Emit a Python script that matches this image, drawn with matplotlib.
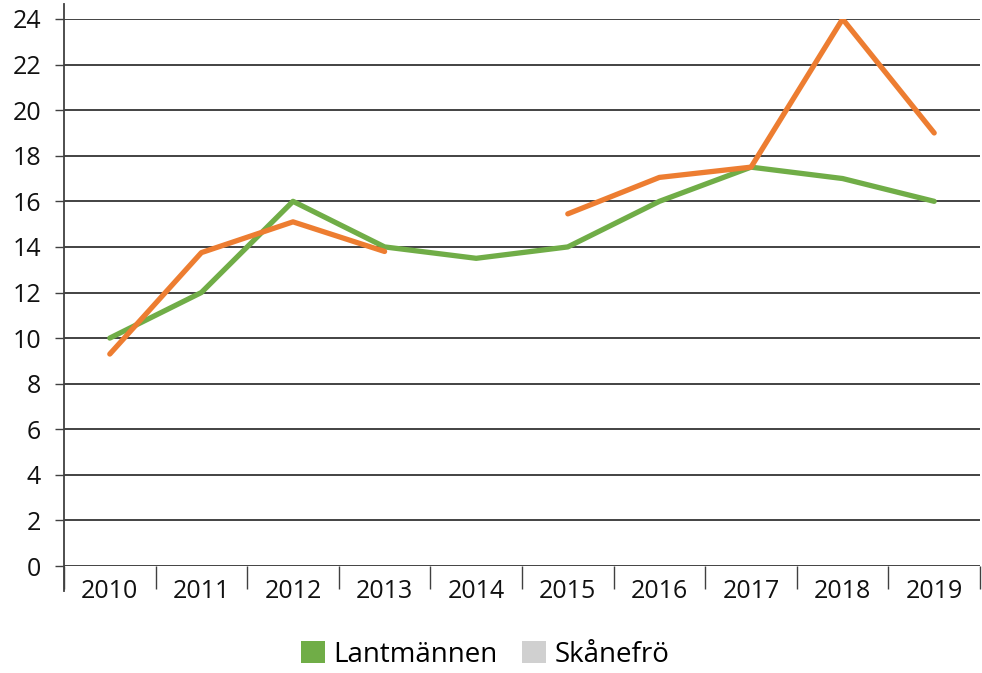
import numpy as np
import matplotlib.pyplot as plt
from matplotlib.patches import Patch
from matplotlib.lines import Line2D

years = ['2010', '2011', '2012', '2013', '2014', '2015', '2016', '2017', '2018', '2019']
lantmannen = [10, 12, 16, 14, 13.5, 14, 16, 17.5, 17, 16]
other = [9.3, 13.75, 15.1, 13.8, np.nan, 15.45, 17.05, 17.5, 24, 19]
skanefro = [np.nan] * 10
yticks = list(range(0, 25, 2))

plt.rcParams['font.family'] = ['Open Sans', 'DejaVu Sans']

fig = plt.figure(figsize=(9.82, 6.73), dpi=100)
ax = fig.add_axes([64 / 982, (673 - 566) / 673, (980 - 64) / 982, (566 - 19) / 673])

x = np.arange(len(years))
ax.plot(x, lantmannen, color='#70AD47', lw=3.8, solid_capstyle='round', solid_joinstyle='round', zorder=3)
ax.plot(x, other, color='#ED7D31', lw=3.8, solid_capstyle='round', solid_joinstyle='round', zorder=4)
ax.plot(x, skanefro, color='#D0D0D0', lw=3.8)

ax.set_xlim(-0.5, len(years) - 0.5)
ax.set_ylim(0, 24)
ax.set_yticks(yticks)
ax.set_yticklabels([str(v) for v in yticks], fontsize=18, color='#111111')
ax.set_xticks(x)
ax.set_xticklabels(years, fontsize=18, color='#111111')
ax.set_xticks(np.arange(len(years) + 1) - 0.5, minor=True)
ax.tick_params(axis='x', which='major', length=0, pad=9)
ax.tick_params(axis='x', which='minor', length=16.5, width=1, color='#404040', direction='out')
ax.tick_params(axis='y', length=6.5, width=1, color='#404040', pad=10)
ax.grid(axis='y', color='#222222', lw=1.2, zorder=1)
ax.set_axisbelow(True)

for s in ['top', 'right', 'bottom', 'left']:
    ax.spines[s].set_visible(False)
ax.add_line(Line2D([0, 0], [-0.045, 1.027], transform=ax.transAxes, color='#404040', lw=1.3, clip_on=False))

handles = [Patch(facecolor='#70AD47', label='Lantmännen'),
           Patch(facecolor='#D0D0D0', label='Skånefrö')]
fig.legend(handles=handles, loc='center', bbox_to_anchor=(485 / 982, 1 - 655 / 673), ncol=2,
           frameon=False, fontsize=20, handlelength=0.85, handleheight=0.85,
           handletextpad=0.3, columnspacing=0.9)

fig.savefig('out.png', dpi=100)
